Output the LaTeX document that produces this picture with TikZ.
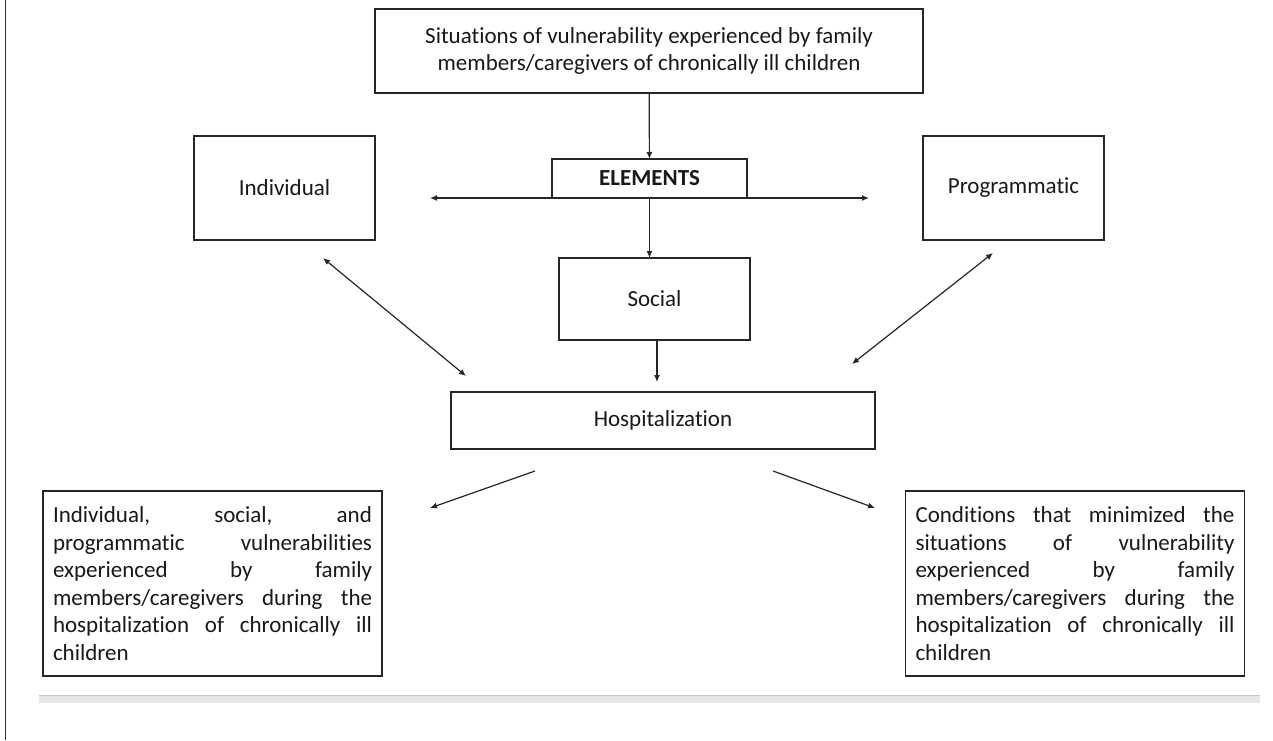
\documentclass[tikz,border=0pt]{standalone}
\usepackage{fontspec}
\setmainfont{Carlito}[RawFeature={-liga;-clig;-calt;-dlig}]
\usetikzlibrary{arrows.meta}

\begin{document}
\begin{tikzpicture}[
x=1pt,y=-1pt,
every node/.style={draw=black!85,line width=1.2pt,align=center,inner sep=0pt,outer sep=0pt,font=\fontsize{23}{27.6}\selectfont,text=black!90},
arr/.style={-{Latex[length=7pt,width=6pt]},line width=1.2pt,draw=black!85},
twoway/.style={{Latex[length=7pt,width=6pt]}-{Latex[length=7pt,width=6pt]},line width=1.2pt,draw=black!85},
sidebox/.style={minimum width=181pt,minimum height=104pt},
outbox/.style={text width=319pt,align=justify,minimum width=339pt,minimum height=185pt}
]
\path[fill=white,use as bounding box] (0,0) rectangle (1273,740);

% page edge and rule
\draw[line width=1.3pt,black!80] (5.7,0) -- (5.7,740);
\fill[black!9] (39,695) rectangle (1260,703);
\draw[black!22,line width=1pt] (39,695.5) -- (1260,695.5);

\node (sit) [minimum width=548pt,minimum height=84pt] at (649,51) {Situations of vulnerability experienced by family\\members/caregivers of chronically ill children};
\node (elem) [minimum width=195pt,minimum height=39pt,font=\fontsize{23}{27.6}\selectfont\bfseries] at (649.5,178.5) {ELEMENTS};
\node (ind) [sidebox] at (284.5,188) {Individual};
\node (prog) [sidebox] at (1013.5,188) {Programmatic};
\node (soc) [minimum width=191pt,minimum height=82pt] at (654.5,299) {Social};
\node (hosp) [minimum width=424pt,minimum height=57pt] at (663,420.5) {Hospitalization};
\node (vuln) [outbox] at (212.5,583.5) {Individual, social, and\linebreak programmatic vulnerabilities\linebreak experienced by family\linebreak members/caregivers during the\linebreak hospitalization of chronically ill\linebreak children};
\node (cond) [outbox] at (1075,583.5) {Conditions that minimized the\linebreak situations of vulnerability\linebreak experienced by family\linebreak members/caregivers during the\linebreak hospitalization of chronically ill\linebreak children};

% free ends of the arrows
\coordinate (eleft) at (430,198);
\coordinate (eright) at (869,198);
\coordinate (inda) at (323,258);
\coordinate (indb) at (466,376);
\coordinate (proga) at (993,253);
\coordinate (progb) at (852,364);
\coordinate (hl) at (535,471);
\coordinate (vl) at (430,508);
\coordinate (hr) at (773,471);
\coordinate (cr) at (875,508);

\draw[arr] (sit) -- (elem);
\draw[twoway] (eleft) -- (eright);
\draw[arr] (elem.south) -- (elem.south |- soc.north);
\draw[arr,shorten >=10pt] (soc.south -| 657,0) -- (hosp.north -| 657,0);
\draw[twoway] (inda) -- (indb);
\draw[twoway] (proga) -- (progb);
\draw[arr] (hl) -- (vl);
\draw[arr] (hr) -- (cr);
\end{tikzpicture}
\end{document}
